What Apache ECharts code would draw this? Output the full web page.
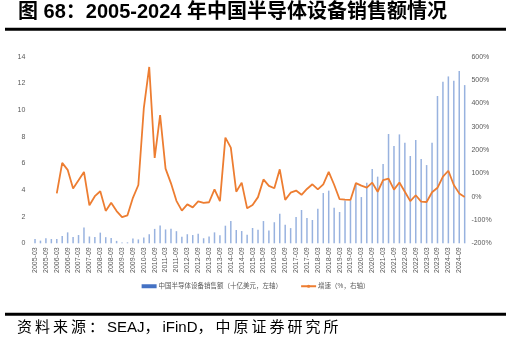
<!DOCTYPE html>
<html>
<head>
<meta charset="utf-8">
<script src="https://cdn.jsdelivr.net/npm/echarts@6/dist/echarts.min.js"></script>
<style>
  html, body { margin: 0; padding: 0; background: #fff; }
  #chart { width: 511px; height: 342px; }
</style>
</head>
<body>
<div id="chart"></div>
<script>
// Quarterly periods 2005Q1 .. 2024Q4
const years = [];
for (let y = 2005; y <= 2024; y++) years.push(y);
const quarterEnds = ['03', '06', '09', '12'];
const categories = [];
years.forEach(y => quarterEnds.forEach(m => categories.push(y + '-' + m)));

// China semiconductor equipment sales, USD billion per quarter
const sales = [
  0.32, 0.20, 0.37, 0.32,
  0.32, 0.55, 0.82, 0.48,
  0.62, 1.18, 0.51, 0.47,
  0.80, 0.46, 0.40, 0.18,
  0.06, 0.07, 0.36, 0.29,
  0.44, 0.68, 1.08, 1.33,
  1.04, 1.10, 0.91, 0.50,
  0.68, 0.62, 0.71, 0.38,
  0.51, 0.82, 0.60, 1.32,
  1.67, 1.00, 0.92, 0.64,
  1.15, 1.01, 1.67, 0.96,
  1.58, 2.21, 1.40, 1.14,
  1.97, 2.50, 1.90, 1.75,
  2.60, 3.77, 3.95, 2.66,
  2.35, 3.22, 3.22, 4.50,
  3.47, 4.55, 5.57, 5.00,
  5.95, 8.20, 7.30, 8.17,
  7.55, 6.55, 7.75, 6.32,
  5.87, 7.55, 11.05, 12.12,
  12.52, 12.20, 12.93, 11.87
];

// Year-over-year growth, %
const growth = [
  null, null, null, null,
  14, 145, 115, 35,
  70, 106, -37, 2,
  23, -61, -26, -62,
  -88, -80, -5, 50,
  378, 556, 166, 350,
  120, 57, -18, -60,
  -33, -46, -20, -27,
  -24, 31, -19, 253,
  210, 21, 60, -50,
  -36, -2, 74, 46,
  36, 117, -14, 17,
  26, 8, 33, 53,
  31, 53, 106, 51,
  -11, -13, -14, 58,
  47, 39, 60, 21,
  71, 77, 30, 61,
  21, -19, 6, -21,
  -23, 19, 38, 86,
  111, 50, 14, -1
];

const leftTicks = { min: 0, max: 14, interval: 2 };
const rightTicks = { min: -200, max: 600, interval: 100 };

const titleText = '图 68：2005-2024 年中国半导体设备销售额情况';
const sourceText = '资料来源：SEAJ，iFinD，中原证券研究所';
const salesName = '中国半导体设备销售额（十亿美元，左轴）';
const growthName = '增速（%，右轴）';

// lay out a string glyph by glyph, adding tracking after wide (CJK) glyphs only
const measureCtx = document.createElement('canvas').getContext('2d');
function trackedText(str, x, y, font, spacing, color) {
  measureCtx.font = font;
  const out = [];
  let cx = x;
  for (const ch of str) {
    out.push({
      type: 'text', x: cx, y: y, silent: true,
      style: { text: ch, font: font, fill: color, textVerticalAlign: 'middle' }
    });
    const wide = ch.codePointAt(0) > 0x2e80;
    cx += measureCtx.measureText(ch).width + (wide ? spacing : 0);
  }
  return out;
}

const CJK = '"Liberation Sans", "Noto Sans CJK SC", sans-serif';
const axisFont = { fontFamily: CJK, fontSize: 7, color: '#595959' };

const chart = echarts.init(document.getElementById('chart'), null, { renderer: 'canvas' });

chart.setOption({
  animation: false,
  backgroundColor: '#fff',
  grid: { left: 32.3, right: 43.6, top: 56.7, bottom: 98.7, containLabel: false },
  legend: {
    left: 'center',
    top: 278,
    itemGap: 18,
    itemWidth: 15,
    itemHeight: 4,
    textStyle: { fontFamily: CJK, fontSize: 6.5, color: '#595959', padding: [0, 0, 0, -3] },
    data: [
      { name: salesName, icon: 'rect', itemStyle: { color: '#4472C4' } },
      { name: growthName }
    ]
  },
  xAxis: {
    type: 'category',
    data: categories,
    boundaryGap: true,
    axisLine: { show: false },
    axisTick: { show: false },
    axisLabel: Object.assign({ interval: 1, rotate: 90, margin: 4 }, axisFont)
  },
  yAxis: [
    {
      type: 'value',
      min: leftTicks.min, max: leftTicks.max, interval: leftTicks.interval,
      splitLine: { show: false },
      axisLine: { show: false },
      axisTick: { show: false },
      axisLabel: Object.assign({ margin: 7 }, axisFont)
    },
    {
      type: 'value',
      min: rightTicks.min, max: rightTicks.max, interval: rightTicks.interval,
      splitLine: { show: false },
      axisLine: { show: false },
      axisTick: { show: false },
      axisLabel: Object.assign({ margin: 4, formatter: '{value}%' }, axisFont)
    }
  ],
  series: [
    {
      name: salesName,
      type: 'bar',
      yAxisIndex: 0,
      data: sales,
      barWidth: 1.5,
      itemStyle: { color: 'rgba(68,114,196,0.55)' },
      z: 2
    },
    {
      name: growthName,
      type: 'line',
      yAxisIndex: 1,
      data: growth,
      symbol: 'none',
      connectNulls: false,
      lineStyle: { color: '#ED7D31', width: 1.8 },
      itemStyle: { color: '#ED7D31' },
      z: 3
    }
  ],
  graphic: [
    {
      type: 'text', left: 18, top: 2, silent: true,
      style: { text: titleText, font: 'bold 20px ' + CJK, fill: '#000' }
    },
    { type: 'rect', shape: { x: 5, y: 27.7, width: 501, height: 3 }, style: { fill: '#000' }, silent: true },
    { type: 'rect', shape: { x: 5, y: 312.7, width: 501, height: 3 }, style: { fill: '#000' }, silent: true },
    {
      type: 'group', silent: true,
      children: trackedText(sourceText, 17, 327.5, '15px ' + CJK, 3.0, '#000')
    }
  ]
});
</script>
</body>
</html>
